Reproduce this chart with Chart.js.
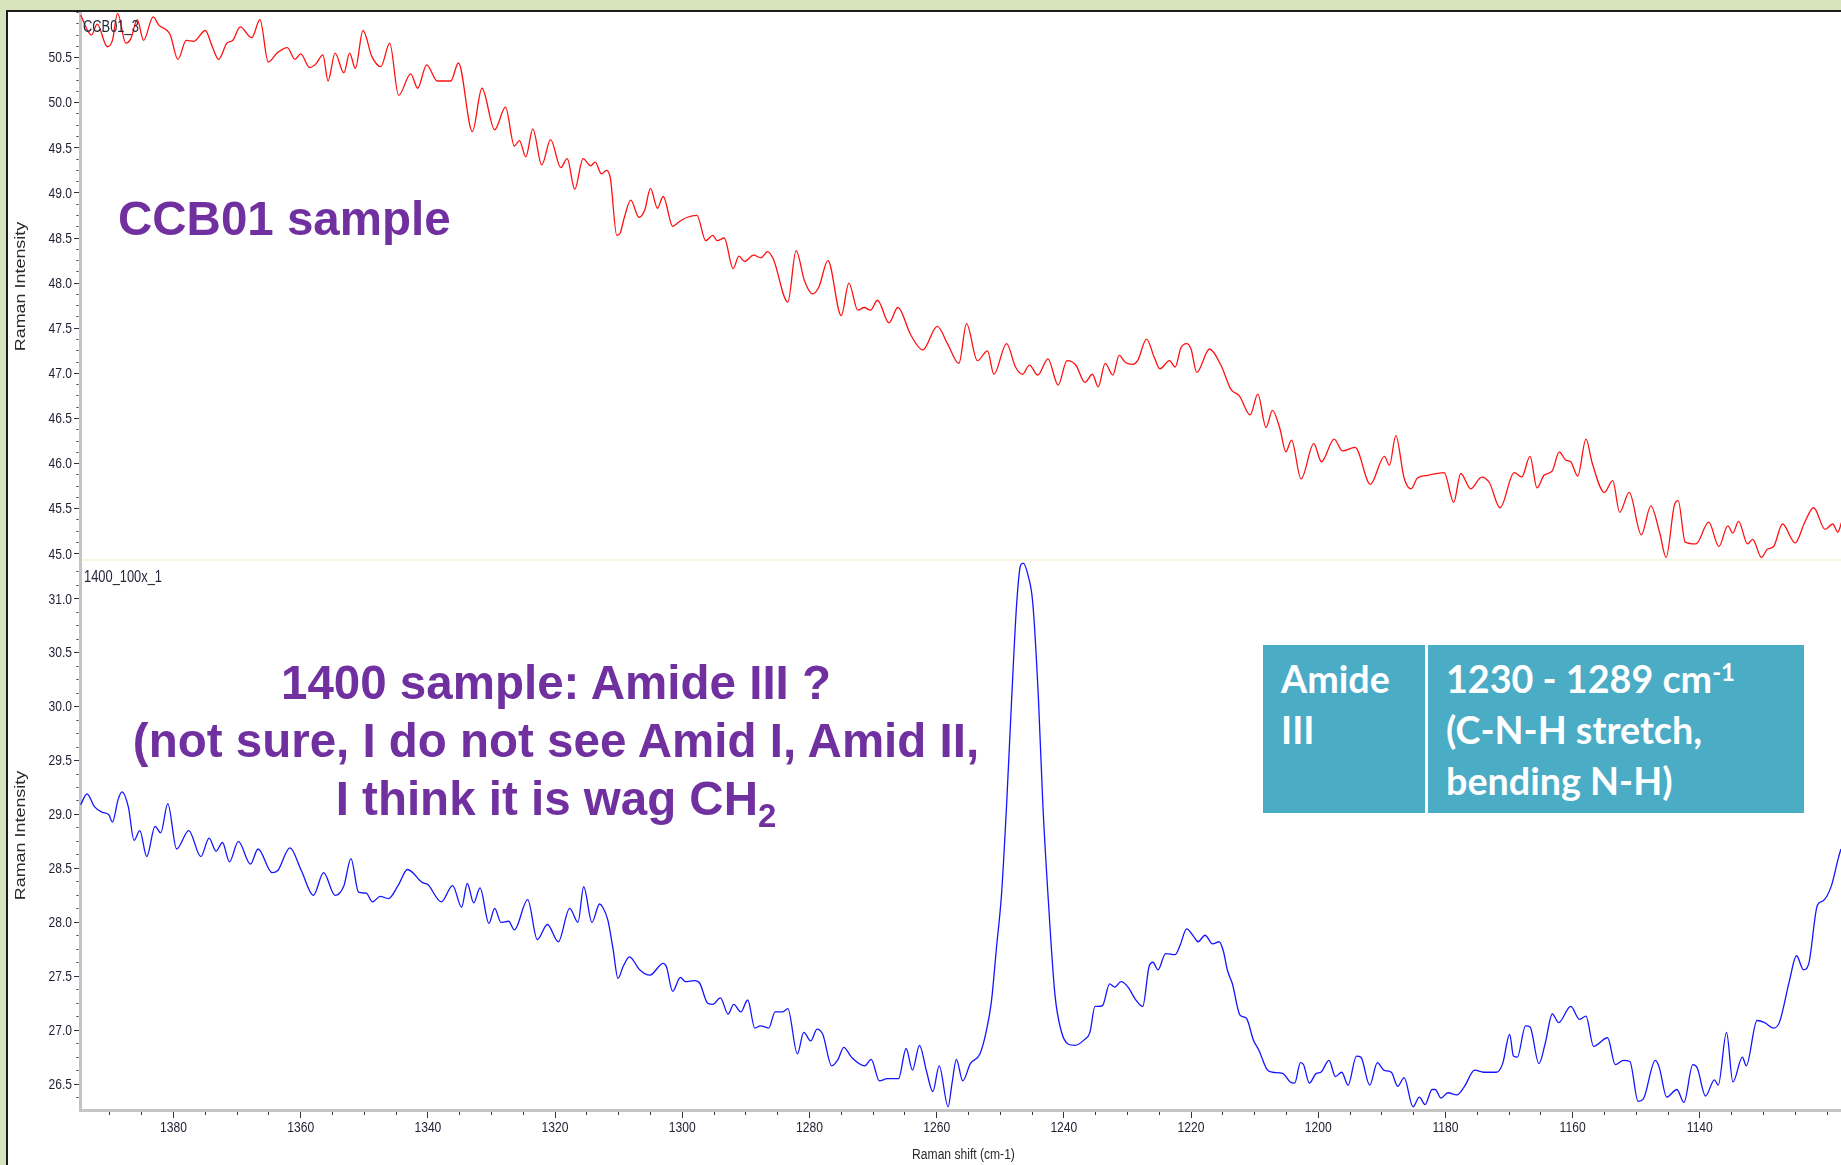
<!DOCTYPE html>
<html lang="en">
<head>
<meta charset="utf-8">
<title>Raman spectra CCB01 / 1400</title>
<script src="https://cdn.jsdelivr.net/npm/chart.js@4.4.1/dist/chart.umd.min.js"></script>
<style>
  html, body { margin: 0; padding: 0; }
  body { position: relative; width: 1841px; height: 1165px; overflow: hidden; background: #d8e4bc; }
  #frame { position: absolute; left: 6px; top: 10px; right: -4px; bottom: -4px; background: #fff; border-left: 2px solid #1c1c1c; border-top: 2px solid #1c1c1c; }
  #myChart { position: absolute; left: 8px; top: 12px; }
  .note { position: absolute; color: #7030a0; font-family: "Liberation Sans", Arial, sans-serif; font-weight: bold; font-size: 47.5px; line-height: 58px; white-space: nowrap; }
  .note .sub { font-size: 33px; vertical-align: -12px; line-height: 0; }
  .cell { position: absolute; top: 645px; height: 168px; box-sizing: border-box; padding: 8px 0 0 18px; background: #4bacc6; color: #fff; font-family: Lato, "Open Sans", sans-serif; font-weight: bold; font-size: 37.7px; line-height: 51px; white-space: nowrap; }
  .cell sup { font-size: 24px; vertical-align: 12px; line-height: 0; }
</style>
</head>
<body>
<div id="frame"></div>
<canvas id="myChart" width="1833" height="1153" style="width:1833px;height:1153px"></canvas>

<div class="note" style="left:118px; top:190px;">CCB01 sample</div>
<div class="note" style="left:56px; top:654px; width:1000px; text-align:center;">1400 sample: Amide III ?<br>(not sure, I do not see Amid I, Amid II,<br>I think it is wag CH<span class="sub">2</span></div>

<div class="cell" style="left:1263px; width:162px;">Amide<br>III</div>
<div class="cell" style="left:1428px; width:376px;">1230 - 1289 cm<sup>-1</sup><br>(C-N-H stretch,<br>bending N-H)</div>

<script>
/**
 * データ
 */
// 上段 CCB01_3 のラマンシフト (cm-1)
const ccbShift = [
  1394.6, 1392.9, 1392.0, 1390.4, 1389.6, 1388.8, 1387.5, 1386.7, 1385.7, 1384.7,
  1383.2, 1382.3, 1381.0, 1380.5, 1379.3, 1378.0, 1376.8, 1375.0, 1373.9, 1372.9,
  1371.6, 1370.7, 1369.5, 1367.7, 1366.4, 1365.1, 1363.7, 1362.1, 1360.9, 1360.0,
  1358.6, 1357.6, 1356.5, 1355.7, 1354.6, 1353.2, 1352.3, 1351.4, 1350.2, 1348.8,
  1347.4, 1346.0, 1344.6, 1342.7, 1341.6, 1340.2, 1338.5, 1336.4, 1335.2, 1333.0,
  1331.5, 1329.5, 1327.8, 1326.4, 1325.6, 1324.6, 1323.5, 1322.1, 1320.7, 1319.1,
  1318.1, 1316.9, 1315.6, 1314.4, 1313.7, 1312.7, 1311.9, 1311.3, 1310.3, 1309.8,
  1309.1, 1308.1, 1306.8, 1305.9, 1305.0, 1303.9, 1303.0, 1301.5, 1300.5, 1299.2,
  1297.7, 1296.3, 1295.2, 1294.5, 1293.4, 1292.0, 1291.1, 1290.2, 1288.8, 1287.6,
  1286.6, 1285.7, 1283.4, 1282.1, 1280.8, 1279.5, 1278.5, 1277.1, 1275.0, 1273.8,
  1272.4, 1271.4, 1270.4, 1269.3, 1267.5, 1266.1, 1264.1, 1262.2, 1259.9, 1258.3,
  1256.5, 1255.3, 1253.6, 1252.0, 1251.0, 1249.0, 1247.6, 1246.5, 1245.4, 1244.1,
  1242.5, 1240.9, 1239.5, 1238.1, 1236.7, 1235.5, 1234.6, 1233.5, 1232.3, 1231.3,
  1230.3, 1229.2, 1228.4, 1227.0, 1225.8, 1224.9, 1223.4, 1222.5, 1221.6, 1220.7,
  1220.0, 1219.1, 1217.1, 1215.3, 1213.7, 1212.4, 1210.7, 1209.5, 1208.2, 1207.2,
  1206.0, 1205.1, 1204.2, 1202.7, 1200.7, 1199.5, 1197.5, 1196.2, 1194.2, 1191.8,
  1189.6, 1188.8, 1187.8, 1186.5, 1185.4, 1184.4, 1182.8, 1180.2, 1178.7, 1177.6,
  1176.0, 1174.3, 1173.1, 1171.4, 1169.2, 1168.0, 1166.7, 1165.6, 1164.5, 1163.2,
  1162.1, 1161.1, 1160.3, 1159.2, 1157.9, 1156.9, 1155.0, 1153.7, 1152.6, 1151.1,
  1149.2, 1147.7, 1146.3, 1145.3, 1144.0, 1143.4, 1142.3, 1140.6, 1138.6, 1137.0,
  1135.6, 1134.8, 1133.9, 1132.5, 1131.7, 1130.3, 1129.4, 1128.4, 1127.0, 1125.0,
  1123.5, 1122.1, 1120.3, 1119.1, 1118.3, 1117.7
];
// 上段 CCB01_3 の強度
const ccbIntensity = [
  50.97, 50.75, 50.87, 50.62, 50.69, 50.99, 50.66, 50.71, 50.92, 50.69,
  50.95, 50.86, 50.80, 50.75, 50.48, 50.69, 50.68, 50.80, 50.62, 50.48,
  50.66, 50.69, 50.84, 50.72, 50.92, 50.45, 50.55, 50.61, 50.48, 50.54,
  50.39, 50.43, 50.53, 50.24, 50.55, 50.33, 50.55, 50.38, 50.80, 50.51,
  50.40, 50.66, 50.08, 50.32, 50.16, 50.42, 50.24, 50.24, 50.44, 49.68,
  50.16, 49.70, 49.95, 49.52, 49.58, 49.40, 49.71, 49.31, 49.59, 49.28,
  49.38, 49.04, 49.38, 49.30, 49.34, 49.21, 49.25, 49.16, 48.53, 48.55,
  48.73, 48.92, 48.73, 48.81, 49.05, 48.83, 48.96, 48.63, 48.68, 48.73,
  48.75, 48.47, 48.53, 48.47, 48.50, 48.16, 48.30, 48.24, 48.31, 48.28,
  48.35, 48.27, 47.79, 48.36, 48.03, 47.88, 47.96, 48.25, 47.64, 48.00,
  47.70, 47.73, 47.70, 47.81, 47.56, 47.73, 47.43, 47.26, 47.52, 47.33,
  47.11, 47.55, 47.14, 47.25, 46.99, 47.33, 47.07, 46.99, 47.09, 46.98,
  47.16, 46.87, 47.14, 47.09, 46.90, 46.99, 46.85, 47.11, 46.98, 47.20,
  47.12, 47.10, 47.14, 47.38, 47.18, 47.05, 47.14, 47.07, 47.28, 47.33,
  47.27, 47.01, 47.27, 47.09, 46.82, 46.75, 46.54, 46.77, 46.40, 46.59,
  46.38, 46.13, 46.26, 45.83, 46.22, 46.02, 46.27, 46.14, 46.18, 45.77,
  46.08, 45.98, 46.31, 45.84, 45.72, 45.84, 45.87, 45.90, 45.57, 45.89,
  45.72, 45.85, 45.79, 45.51, 45.90, 45.85, 46.08, 45.73, 45.87, 45.92,
  46.13, 46.04, 46.02, 45.86, 46.27, 46.00, 45.68, 45.81, 45.46, 45.68,
  45.21, 45.53, 45.23, 44.96, 45.54, 45.59, 45.13, 45.11, 45.35, 45.08,
  45.31, 45.23, 45.36, 45.11, 45.16, 44.96, 45.05, 45.08, 45.33, 45.12,
  45.35, 45.51, 45.27, 45.33, 45.24, 45.35
];

// 下段 1400_100x_1 のラマンシフト (cm-1)
const s1400Shift = [
  1394.6, 1393.6, 1392.4, 1391.2, 1390.2, 1389.6, 1388.7, 1388.1, 1387.1, 1386.2,
  1385.3, 1384.2, 1382.9, 1382.0, 1380.9, 1379.5, 1377.6, 1375.7, 1374.4, 1373.3,
  1372.3, 1371.2, 1369.8, 1367.9, 1366.7, 1364.5, 1363.6, 1361.7, 1359.9, 1358.0,
  1356.4, 1354.6, 1353.2, 1352.1, 1350.9, 1349.7, 1348.7, 1347.5, 1346.2, 1344.7,
  1343.2, 1340.9, 1340.0, 1337.9, 1336.1, 1334.7, 1333.8, 1332.8, 1331.8, 1330.4,
  1329.5, 1328.5, 1327.3, 1326.4, 1324.3, 1322.8, 1321.2, 1319.5, 1317.7, 1316.4,
  1315.5, 1314.2, 1313.0, 1312.5, 1311.7, 1310.9, 1310.1, 1309.3, 1308.3, 1306.7,
  1305.1, 1303.0, 1302.5, 1301.5, 1300.3, 1299.5, 1298.1, 1297.3, 1296.0, 1295.2,
  1294.0, 1292.8, 1291.9, 1290.8, 1289.7, 1288.6, 1287.7, 1286.4, 1285.4, 1284.2,
  1283.4, 1281.9, 1280.9, 1279.8, 1278.8, 1277.9, 1276.5, 1275.5, 1274.6, 1273.4,
  1271.3, 1270.3, 1269.0, 1267.8, 1266.0, 1264.8, 1263.8, 1262.7, 1261.6, 1260.6,
  1259.6, 1258.2, 1257.6, 1256.9, 1255.9, 1254.7, 1253.2, 1252.2, 1251.4, 1250.6,
  1249.8, 1249.0, 1248.2, 1247.4, 1246.8, 1246.4, 1245.6, 1244.9, 1244.0, 1243.3,
  1242.5, 1241.4, 1240.4, 1239.3, 1238.3, 1236.8, 1235.9, 1235.1, 1234.6, 1233.9,
  1232.8, 1232.0, 1231.0, 1229.9, 1228.8, 1227.6, 1226.6, 1226.0, 1225.2, 1224.0,
  1222.5, 1221.7, 1220.7, 1219.6, 1218.9, 1217.8, 1216.6, 1215.6, 1214.9, 1214.3,
  1213.5, 1212.3, 1211.3, 1210.2, 1209.3, 1208.1, 1207.2, 1205.6, 1204.4, 1203.7,
  1202.8, 1202.3, 1201.4, 1200.3, 1199.6, 1198.3, 1197.3, 1196.3, 1195.3, 1194.0,
  1193.3, 1191.9, 1190.7, 1189.7, 1188.5, 1187.5, 1186.5, 1185.1, 1184.1, 1183.2,
  1182.1, 1181.6, 1180.7, 1179.6, 1178.2, 1177.0, 1175.4, 1174.0, 1172.0, 1171.0,
  1169.9, 1169.3, 1168.7, 1167.4, 1166.7, 1165.3, 1164.3, 1163.2, 1162.2, 1160.3,
  1158.9, 1157.9, 1156.7, 1154.5, 1153.3, 1152.0, 1151.0, 1149.7, 1148.9, 1147.0,
  1146.4, 1145.2, 1143.6, 1142.5, 1141.1, 1140.4, 1139.1, 1137.7, 1137.1, 1135.8,
  1134.8, 1133.3, 1132.7, 1131.0, 1129.8, 1128.4, 1127.5, 1125.9, 1124.8, 1123.7,
  1122.9, 1121.5, 1120.6, 1119.3, 1118.2, 1117.8
];
// 下段 1400_100x_1 の強度
const s1400Intensity = [
  29.09, 29.19, 29.07, 29.02, 29.00, 28.93, 29.14, 29.21, 29.07, 28.76,
  28.85, 28.61, 28.89, 28.83, 29.10, 28.68, 28.85, 28.61, 28.78, 28.66,
  28.74, 28.56, 28.75, 28.54, 28.68, 28.46, 28.48, 28.69, 28.48, 28.25,
  28.46, 28.25, 28.34, 28.59, 28.28, 28.27, 28.19, 28.24, 28.22, 28.34,
  28.49, 28.37, 28.35, 28.19, 28.34, 28.14, 28.36, 28.18, 28.32, 27.99,
  28.13, 28.00, 28.01, 27.93, 28.21, 27.84, 27.98, 27.82, 28.13, 28.00,
  28.33, 28.00, 28.17, 28.14, 28.02, 27.76, 27.48, 27.59, 27.68, 27.56,
  27.51, 27.62, 27.59, 27.36, 27.49, 27.45, 27.46, 27.44, 27.25, 27.24,
  27.30, 27.15, 27.24, 27.17, 27.28, 27.02, 27.04, 27.02, 27.17, 27.17,
  27.20, 26.78, 26.98, 26.90, 27.01, 26.96, 26.67, 26.73, 26.84, 26.75,
  26.67, 26.73, 26.53, 26.55, 26.55, 26.83, 26.63, 26.86, 26.62, 26.43,
  26.67, 26.29, 26.50, 26.73, 26.53, 26.69, 26.78, 26.99, 27.26, 27.76,
  28.26, 29.09, 30.08, 30.97, 31.31, 31.33, 31.21, 30.97, 30.08, 29.09,
  28.26, 27.33, 26.99, 26.87, 26.86, 26.91, 26.98, 27.22, 27.22, 27.23,
  27.43, 27.40, 27.45, 27.40, 27.29, 27.22, 27.59, 27.63, 27.56, 27.71,
  27.70, 27.79, 27.94, 27.87, 27.82, 27.88, 27.80, 27.82, 27.73, 27.56,
  27.43, 27.14, 27.11, 26.91, 26.81, 26.64, 26.61, 26.60, 26.52, 26.51,
  26.70, 26.68, 26.51, 26.60, 26.61, 26.72, 26.57, 26.61, 26.49, 26.76,
  26.75, 26.49, 26.70, 26.63, 26.61, 26.48, 26.56, 26.29, 26.38, 26.31,
  26.45, 26.45, 26.37, 26.42, 26.40, 26.48, 26.63, 26.61, 26.61, 26.69,
  26.96, 26.76, 26.75, 27.04, 27.03, 26.69, 26.88, 27.15, 27.07, 27.22,
  27.10, 27.13, 26.85, 26.93, 26.68, 26.72, 26.71, 26.34, 26.36, 26.72,
  26.66, 26.38, 26.45, 26.33, 26.68, 26.65, 26.39, 26.54, 26.49, 26.98,
  26.52, 26.75, 26.67, 27.09, 27.07, 27.02, 27.07, 27.46, 27.69, 27.56,
  27.61, 28.16, 28.20, 28.34, 28.60, 28.68
];

// 軸の目盛りラベル
const xTickLabels = [1380, 1360, 1340, 1320, 1300, 1280, 1260, 1240, 1220, 1200, 1180, 1160, 1140];
const yTopTickLabels = [45.0, 45.5, 46.0, 46.5, 47.0, 47.5, 48.0, 48.5, 49.0, 49.5, 50.0, 50.5];
const yBottomTickLabels = [26.5, 27.0, 27.5, 28.0, 28.5, 29.0, 29.5, 30.0, 30.5, 31.0];
// パネル左上のスペクトル名
const panelNames = ["CCB01_3", "1400_100x_1"];

/**
 * 共通の設定
 */
const baseFont = '"Liberation Sans", Arial, sans-serif';
const tickTextColor = "#1f1f33";

// 値がラベル一覧に含まれるかどうか（小数の誤差を考慮）
const hasLabel = function (list, value) {
  return list.some(function (v) {
    return Math.abs(v - value) < 1e-6;
  });
};

// x,y の配列から {x, y} の配列を作る
const toPoints = function (xs, ys) {
  return xs.map(function (x, i) {
    return { x: x, y: ys[i] };
  });
};

// 元画像の文字は横に詰まっているので、横だけ縮めて描く
const drawNarrow = function (c, text, x, y, align, size) {
  c.save();
  c.translate(x, y);
  c.scale(0.78, 1);
  c.font = size + "px " + baseFont;
  c.textAlign = align;
  c.textBaseline = "middle";
  c.fillText(text, 0, 0);
  c.restore();
};

// 縦軸（上下2段を積み重ねる）の設定を作る関数
const makeYAxis = function (min, max, labels) {
  return {
    type: "linear",
    position: "left",
    stack: "panels",
    stackWeight: 1,
    min: min,
    max: max,
    afterFit: function (scale) {
      scale.width = 72;
      scale.paddingTop = 0;
      scale.paddingBottom = 0;
    },
    border: { display: true, color: "#c4c4c4", width: 3 },
    grid: {
      drawOnChartArea: false,
      drawTicks: true,
      tickLength: 6,
      tickColor: "#333",
      tickWidth: 1,
      // ラベルの無い目盛りは軸の近くに短く描く
      tickBorderDash: function (ctx) {
        return hasLabel(labels, ctx.tick.value) ? [] : [0, 2.5, 2, 50];
      },
    },
    ticks: {
      display: false,
      stepSize: 0.125,
      autoSkip: false,
      includeBounds: false,
    },
    title: { display: false },
  };
};

/**
 * 目盛りの文字・軸タイトル・区切り線・スペクトル名を描くプラグイン
 */
const axisText = {
  id: "axisText",
  afterDraw: function (chart) {
    const ctx = chart.ctx;
    const area = chart.chartArea;
    const xScale = chart.scales.x;
    const topScale = chart.scales.yTop;
    const bottomScale = chart.scales.yBottom;

    ctx.save();
    // 上下パネルの区切り線
    ctx.strokeStyle = "#fbf3e1";
    ctx.lineWidth = 2;
    ctx.beginPath();
    ctx.moveTo(area.left + 2, topScale.bottom - 1);
    ctx.lineTo(area.right, topScale.bottom - 1);
    ctx.stroke();

    // 横軸の目盛り文字
    ctx.fillStyle = tickTextColor;
    xTickLabels.forEach(function (v) {
      drawNarrow(ctx, String(v), xScale.getPixelForValue(v), xScale.top + 18, "center", 15.5);
    });
    // 縦軸の目盛り文字
    [[topScale, yTopTickLabels], [bottomScale, yBottomTickLabels]].forEach(function (pair) {
      const scale = pair[0];
      pair[1].forEach(function (v) {
        drawNarrow(ctx, v.toFixed(1), scale.right - 8, scale.getPixelForValue(v) + 0.5, "right", 15.5);
      });
    });

    // 軸タイトル
    ctx.fillStyle = "#2a2a2a";
    drawNarrow(ctx, "Raman shift (cm-1)", (area.left + area.right) / 2 + 3, xScale.bottom - 10, "center", 15.5);
    [topScale, bottomScale].forEach(function (scale) {
      ctx.save();
      ctx.translate(13, (scale.top + scale.bottom) / 2);
      ctx.rotate(-Math.PI / 2);
      ctx.scale(1.28, 1);
      ctx.font = "14px " + baseFont;
      ctx.textAlign = "center";
      ctx.textBaseline = "middle";
      ctx.fillText("Raman Intensity", 0, 0);
      ctx.restore();
    });

    // スペクトル名
    ctx.fillStyle = "#26263a";
    drawNarrow(ctx, panelNames[0], area.left + 3, topScale.top + 15, "left", 16.5);
    drawNarrow(ctx, panelNames[1], area.left + 4, bottomScale.top + 16, "left", 16.5);
    ctx.restore();
  },
};

const ctx = document.getElementById("myChart").getContext("2d");
const myChart = new Chart(ctx, {
  type: "line",
  data: {
    datasets: [
      {
        label: panelNames[1],
        data: toPoints(s1400Shift, s1400Intensity),
        yAxisID: "yBottom",
        borderColor: "#1414ff",
        borderWidth: 1.3,
        pointRadius: 0,
        cubicInterpolationMode: "monotone",
      },
      {
        label: panelNames[0],
        data: toPoints(ccbShift, ccbIntensity),
        yAxisID: "yTop",
        borderColor: "#ff1010",
        borderWidth: 1.3,
        pointRadius: 0,
        cubicInterpolationMode: "monotone",
      },
    ],
  },
  options: {
    responsive: false,
    animation: false,
    devicePixelRatio: 1,
    layout: { padding: 0, autoPadding: false },
    plugins: {
      legend: { display: false },
      tooltip: { enabled: false },
    },
    scales: {
      x: {
        type: "linear",
        reverse: true,
        min: 1117.8,
        max: 1394.7,
        afterFit: function (scale) {
          scale.height = 55;
          scale.paddingLeft = 0;
          scale.paddingRight = 0;
        },
        border: { display: true, color: "#c4c4c4", width: 3 },
        grid: {
          drawOnChartArea: false,
          drawTicks: true,
          tickLength: 8,
          tickColor: "#333",
          tickWidth: 1,
          tickBorderDash: function (ctx) {
            return hasLabel(xTickLabels, ctx.tick.value) ? [] : [3, 50];
          },
        },
        ticks: {
          display: false,
          stepSize: 5,
          autoSkip: false,
          includeBounds: false,
        },
        title: { display: false },
      },
      yBottom: makeYAxis(26.26, 31.35, yBottomTickLabels),
      yTop: makeYAxis(44.92, 51.005, yTopTickLabels),
    },
  },
  plugins: [axisText],
});
</script>
</body>
</html>
